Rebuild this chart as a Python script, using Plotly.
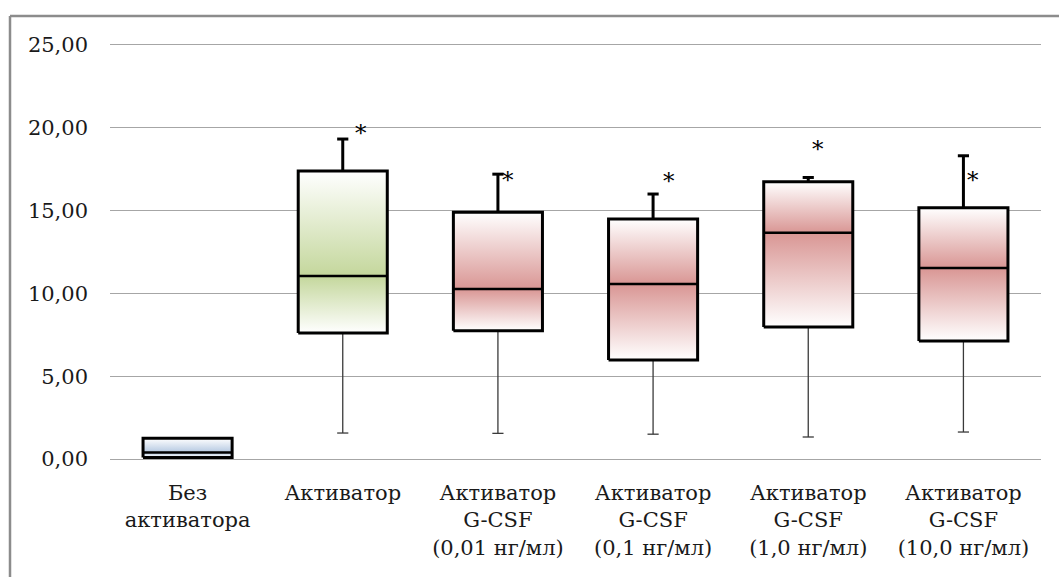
import plotly.graph_objects as go

# Groups and box-plot statistics
categories = [
    "Без<br>активатора",
    "Активатор",
    "Активатор<br>G-CSF<br>(0,01 нг/мл)",
    "Активатор<br>G-CSF<br>(0,1 нг/мл)",
    "Активатор<br>G-CSF<br>(1,0 нг/мл)",
    "Активатор<br>G-CSF<br>(10,0 нг/мл)",
]
whisker_low = [0.10, 1.57, 1.55, 1.50, 1.33, 1.63]
q1 = [0.10, 7.61, 7.74, 5.98, 7.97, 7.13]
median = [0.40, 11.05, 10.27, 10.57, 13.66, 11.54]
q3 = [1.25, 17.39, 14.90, 14.50, 16.74, 15.17]
whisker_high = [1.25, 19.32, 17.20, 16.00, 17.00, 18.31]
significant = [False, True, True, True, True, True]
star_y = [None, 20.05, 17.2, 17.15, 19.08, 17.2]
star_dx = [0, 0.12, 0.065, 0.10, 0.06, 0.06]

y_ticks = [0, 5, 10, 15, 20, 25]
y_ticktext = ["0,00", "5,00", "10,00", "15,00", "20,00", "25,00"]

fill_colors = ["#b4c8e1", "#c4d79c", "#d99694", "#d99694", "#d99694", "#d99694"]

HALF_W = 0.287
CAP_W = 0.036
FONT = "DejaVu Serif"
TICK_FONT = dict(family=FONT, size=21, color="#1a1a1a")

fig = go.Figure()

for i in range(len(categories)):
    x0, x1 = i - HALF_W, i + HALF_W
    col = fill_colors[i]
    # lower half: colour at median fading to white at Q1
    fig.add_trace(go.Scatter(
        x=[x0, x1, x1, x0, x0], y=[q1[i], q1[i], median[i], median[i], q1[i]],
        mode="none", fill="toself",
        fillgradient=dict(type="vertical", colorscale=[[0, "white"], [1, col]],
                          start=q1[i], stop=median[i]),
        hoverinfo="skip", showlegend=False))
    # upper half: colour at median fading to white at Q3
    fig.add_trace(go.Scatter(
        x=[x0, x1, x1, x0, x0], y=[median[i], median[i], q3[i], q3[i], median[i]],
        mode="none", fill="toself",
        fillgradient=dict(type="vertical", colorscale=[[0, col], [1, "white"]],
                          start=median[i], stop=q3[i]),
        hoverinfo="skip", showlegend=False))

    # lower whisker (thin)
    if whisker_low[i] < q1[i]:
        fig.add_trace(go.Scatter(
            x=[i, i, None, i - CAP_W, i + CAP_W],
            y=[q1[i], whisker_low[i], None, whisker_low[i], whisker_low[i]],
            mode="lines", line=dict(color="#3a3a3a", width=1.3),
            hoverinfo="skip", showlegend=False))
    # upper whisker (bold)
    if whisker_high[i] > q3[i]:
        fig.add_trace(go.Scatter(
            x=[i, i, None, i - CAP_W, i + CAP_W],
            y=[q3[i], whisker_high[i], None, whisker_high[i], whisker_high[i]],
            mode="lines", line=dict(color="black", width=3),
            hoverinfo="skip", showlegend=False))

    # box outline
    fig.add_trace(go.Scatter(
        x=[x0, x1, x1, x0, x0], y=[q1[i], q1[i], q3[i], q3[i], q1[i]],
        mode="lines", line=dict(color="black", width=3),
        hoverinfo="skip", showlegend=False))
    # median
    fig.add_trace(go.Scatter(
        x=[x0, x1], y=[median[i], median[i]],
        mode="lines", line=dict(color="black", width=2.5),
        hoverinfo="skip", showlegend=False))

    if significant[i]:
        fig.add_annotation(x=i + star_dx[i], y=star_y[i], text="*", showarrow=False,
                           font=dict(family=FONT, size=23, color="black"),
                           xanchor="center", yanchor="middle", yshift=-6)

W, H = 1059, 577
ML, MR, MT, MB = 110, 18, 40, 113
y_min, y_max = -0.3, 25.3

fig.update_layout(
    width=W, height=H,
    margin=dict(l=ML, r=MR, t=MT, b=MB),
    paper_bgcolor="white", plot_bgcolor="white",
    font=dict(family=FONT, size=21, color="#1a1a1a"),
    xaxis=dict(range=[-0.5, len(categories) - 0.5], tickmode="array",
               tickvals=list(range(len(categories))), ticktext=categories,
               tickfont=TICK_FONT,
               showgrid=False, zeroline=False, showline=False, ticks="",
               ticklabelstandoff=14, fixedrange=True),
    yaxis=dict(range=[y_min, y_max], tickmode="array", tickvals=y_ticks,
               ticktext=y_ticktext, tickfont=TICK_FONT,
               showgrid=True, gridcolor="#a6a6a6",
               gridwidth=1.3, zeroline=False, showline=False, ticks="",
               ticklabelstandoff=21, fixedrange=True),
)

# outer frame: top and left edges
plot_w = W - ML - MR
plot_h = H - MT - MB
def px_x(p):
    return (p - ML) / plot_w
def px_y(p):
    return (H - MB - p) / plot_h

fig.add_shape(type="line", xref="paper", yref="paper",
              x0=px_x(10), y0=px_y(H), x1=px_x(10), y1=px_y(16),
              line=dict(color="#8c8c8c", width=2.5))
fig.add_shape(type="line", xref="paper", yref="paper",
              x0=px_x(10), y0=px_y(16), x1=px_x(W + 5), y1=px_y(16),
              line=dict(color="#8c8c8c", width=2.5))

fig.write_html("out.html")
